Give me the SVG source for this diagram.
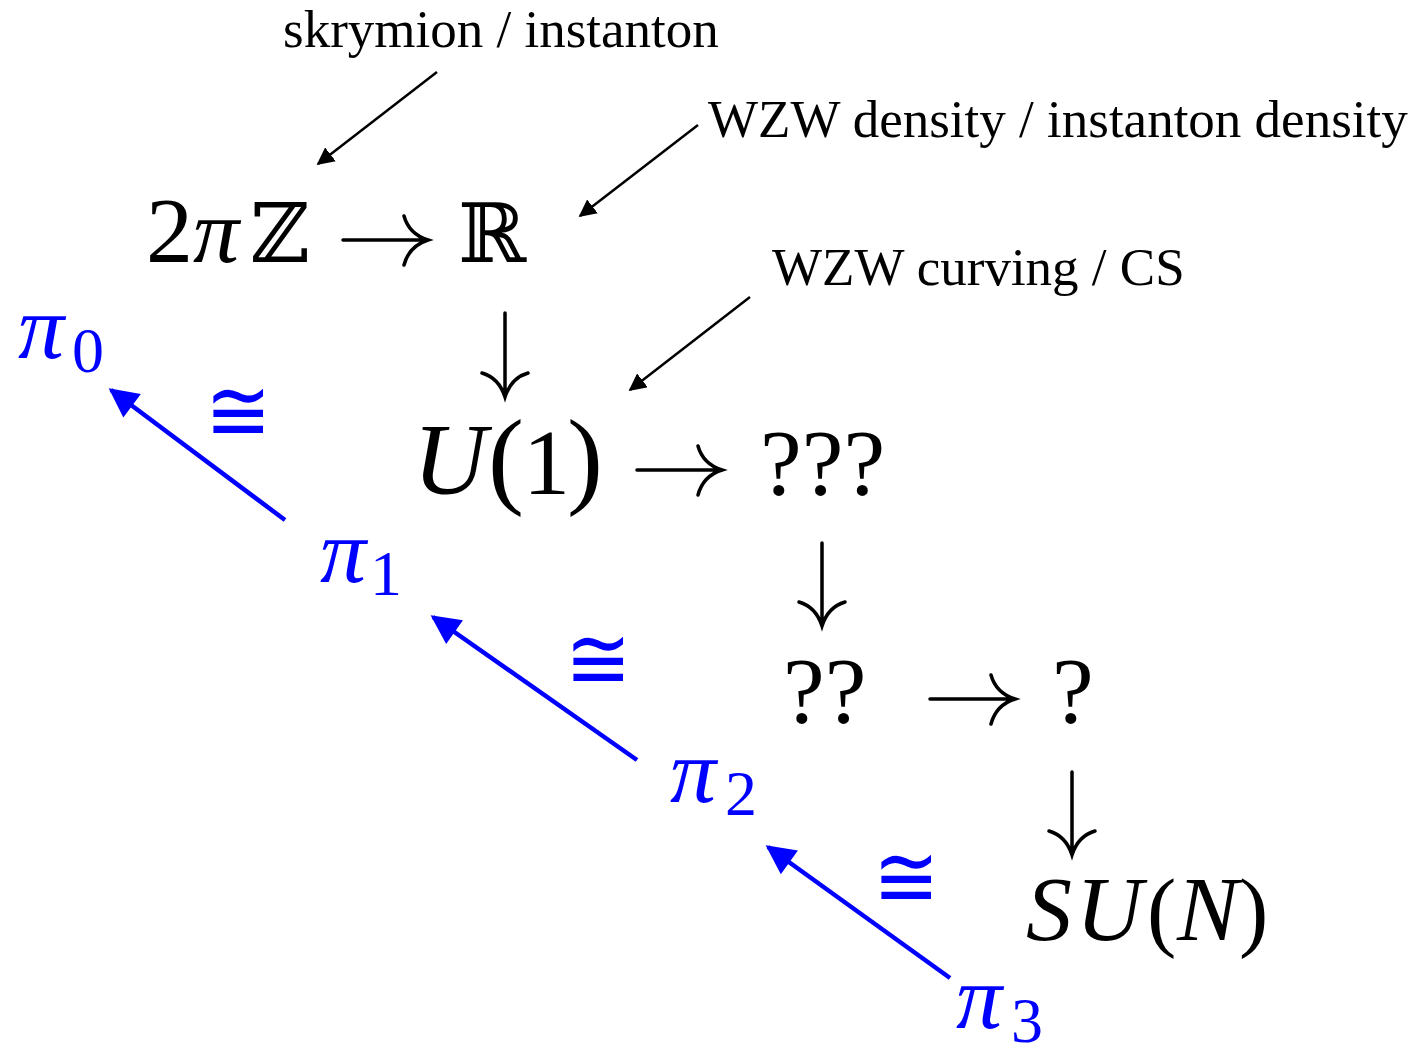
<svg xmlns="http://www.w3.org/2000/svg" width="1419" height="1045" viewBox="0 0 1419 1045">
<style>
.lbl{font-family:"Liberation Serif",serif;font-size:53px;fill:#000}
.m{font-family:"Liberation Serif",serif;font-size:94px;fill:#000}
.mi{font-family:"Liberation Serif",serif;font-style:italic;font-size:102px;fill:#000}
.mi2{font-family:"Liberation Serif",serif;font-style:italic;font-size:92px;fill:#000}
.bb{font-family:"DejaVu Serif",serif;font-size:82px;fill:#000}
.par{font-family:"Liberation Serif",serif;font-size:108px;fill:#000}
.par2{font-family:"Liberation Serif",serif;font-size:88px;fill:#000}
.pi{font-family:"Liberation Serif",serif;font-style:italic;font-size:92px;fill:#0000ff}
.sub{font-family:"Liberation Serif",serif;font-size:64px;fill:#0000ff}
.cong{font-family:"DejaVu Serif",serif;font-size:88px;fill:#0000ff}
.tex{fill:none;stroke:#000;stroke-width:3.5;stroke-linecap:round}
.thin{fill:none;stroke:#000;stroke-width:2.5}
.blue{fill:none;stroke:#0000ff;stroke-width:4.5}
</style>
<defs>
<marker id="ah" viewBox="0 0 10 10" refX="9" refY="5" markerWidth="7" markerHeight="7" markerUnits="strokeWidth" orient="auto">
<path d="M0,0 L10,5 L0,10 z" fill="#000"/>
</marker>
<marker id="bh" viewBox="0 0 10 10" refX="9" refY="5" markerWidth="7.5" markerHeight="6.5" markerUnits="strokeWidth" orient="auto">
<path d="M0,0 L10,5 L0,10 z" fill="#0000ff"/>
</marker>
</defs>

<g id="label-skyrmion"><text class="lbl" x="283" y="47">skrymion / instanton</text></g>
<g id="label-wzw-density"><text class="lbl" x="708" y="137">WZW density / instanton density</text></g>
<g id="label-wzw-curving"><text class="lbl" x="772" y="285">WZW curving / CS</text></g>

<g id="node-2piZ">
<text class="m" x="146" y="262">2</text>
<text class="pi" style="fill:#000" x="193" y="262">π</text>
<text class="bb" x="250" y="262">ℤ</text>
</g>
<g id="node-R"><text class="bb" x="458" y="262">ℝ</text></g>
<g id="node-U1">
<text class="mi" x="413" y="494">U</text>
<text class="par" x="488" y="494">(</text>
<text class="m" x="523" y="494">1</text>
<text class="par" x="567" y="494">)</text>
</g>
<g id="node-qqq"><text class="m" x="760" y="494">???</text></g>
<g id="node-qq"><text class="m" x="783" y="722">??</text></g>
<g id="node-q"><text class="m" x="1052" y="722">?</text></g>
<g id="node-SUN">
<text class="mi2" x="1026" y="940">S</text>
<text class="mi2" x="1076" y="940">U</text>
<text class="par2" x="1147" y="940">(</text>
<text class="mi2" x="1177" y="940">N</text>
<text class="par2" x="1239" y="940">)</text>
</g>

<g id="node-pi0"><text class="pi" x="18" y="358">π</text><text class="sub" x="72" y="372">0</text></g>
<g id="node-pi1"><text class="pi" x="320" y="582">π</text><text class="sub" x="370" y="595">1</text></g>
<g id="node-pi2"><text class="pi" x="670" y="802">π</text><text class="sub" x="725" y="815">2</text></g>
<g id="node-pi3"><text class="pi" x="956" y="1028">π</text><text class="sub" x="1011" y="1042">3</text></g>

<g id="iso-labels">
<text class="cong" transform="translate(205,441) scale(0.9,1)">≅</text>
<text class="cong" transform="translate(565,689) scale(0.9,1)">≅</text>
<text class="cong" transform="translate(873,907) scale(0.9,1)">≅</text>
</g>

<g id="connectors">
<path class="tex" d="M343,240 H427 M404,216 Q409,234 428,240 Q409,246 404,265"/>
<path class="tex" d="M505,313 V396 M482,373 Q499,378 505,397 Q511,378 528,373"/>
<path class="tex" d="M637,470 H721 M698,446 Q703,464 722,470 Q703,476 698,495"/>
<path class="tex" d="M822,543 V625 M799,602 Q816,607 822,626 Q828,607 845,602"/>
<path class="tex" d="M930,699 H1014 M991,675 Q996,693 1015,699 Q996,705 991,724"/>
<path class="tex" d="M1072,772 V854 M1049,831 Q1066,836 1072,855 Q1078,836 1095,831"/>
<path class="thin" d="M437,72 L318,164" marker-end="url(#ah)"/>
<path class="thin" d="M698,125 L580,216" marker-end="url(#ah)"/>
<path class="thin" d="M750,297 L630,390" marker-end="url(#ah)"/>
<path class="blue" d="M285,520 L111,390" marker-end="url(#bh)"/>
<path class="blue" d="M637,760 L433,617" marker-end="url(#bh)"/>
<path class="blue" d="M950,978 L768,847" marker-end="url(#bh)"/>
</g>
</svg>
